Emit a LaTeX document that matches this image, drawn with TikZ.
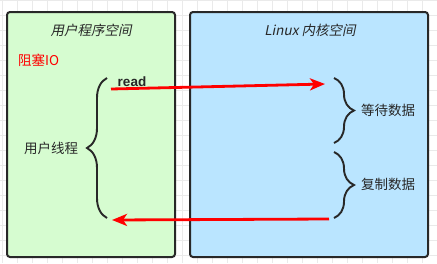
\documentclass[tikz,border=0pt]{standalone}
\usepackage{fontspec}
\setmainfont{Liberation Sans}
\newfontfamily\cjk{Noto Sans CJK SC}
\newfontfamily\cjkit{Noto Sans CJK SC}[FakeSlant=0.2]
\usetikzlibrary{arrows.meta,decorations.pathreplacing}
\definecolor{mygreen}{RGB}{214,252,208}
\definecolor{myblue}{RGB}{186,229,255}
\definecolor{mydark}{RGB}{40,40,40}
\definecolor{mygrid}{RGB}{234,234,234}
\tikzset{
  spacebox/.style={draw=mydark,line width=2pt,rounded corners=3pt},
  bracket/.style={draw=mydark,line width=1.9pt,decorate,decoration={brace,amplitude=20pt}},
  callarrow/.style={red,line width=2.8pt,-{Stealth[length=15pt,width=12pt,inset=4pt]}}
}

\begin{document}
\begin{tikzpicture}[x=1pt,y=-1pt,every node/.style={font=\fontsize{13.5}{15}\selectfont\cjk,text=mydark,inner sep=0pt}]
\useasboundingbox (0,0) rectangle (437,263);
\fill[white] (0,0) rectangle (437,263);
% grid
\foreach \gx in {2,17,...,437} \draw[mygrid,line width=0.8pt] (\gx,0)--(\gx,263);
\foreach \gy in {0,15,...,263} \draw[mygrid,line width=0.8pt] (0,\gy)--(437,\gy);
% user space
\draw[spacebox,fill=mygreen] (7,12) rectangle (175,257);
\node[font=\fontsize{13.5}{15}\selectfont\cjkit] (usertitle) at (91,30){用户程序空间};
\node[text=red,anchor=west] (blockio) at (18,60){阻塞IO};
\draw[bracket] (107,218)--(107,78); % thread brace
\node (thread) at (51,148){用户线程};
\node[font=\fontsize{13.5}{15}\selectfont\bfseries] (read) at (132,82){read};
% kernel space
\draw[spacebox,fill=myblue] (190,12) rectangle (428,257);
\node[font=\fontsize{13.5}{15}\selectfont\cjkit] (kerneltitle) at (310,30){Linux 内核空间};
\draw[bracket] (334,78)--(334,143); % wait brace
\draw[bracket] (334,152)--(334,218); % copy brace
\node (waitdata) at (388,110){等待数据};
\node (copydata) at (388,184){复制数据};
% calls
\coordinate (readstart) at (111,89);
\coordinate (readend) at (325,84);
\coordinate (copystart) at (329,219);
\coordinate (copyend) at (112,220);
\draw[callarrow] (readstart)--(readend);
\draw[callarrow] (copystart)--(copyend);
\end{tikzpicture}
\end{document}
